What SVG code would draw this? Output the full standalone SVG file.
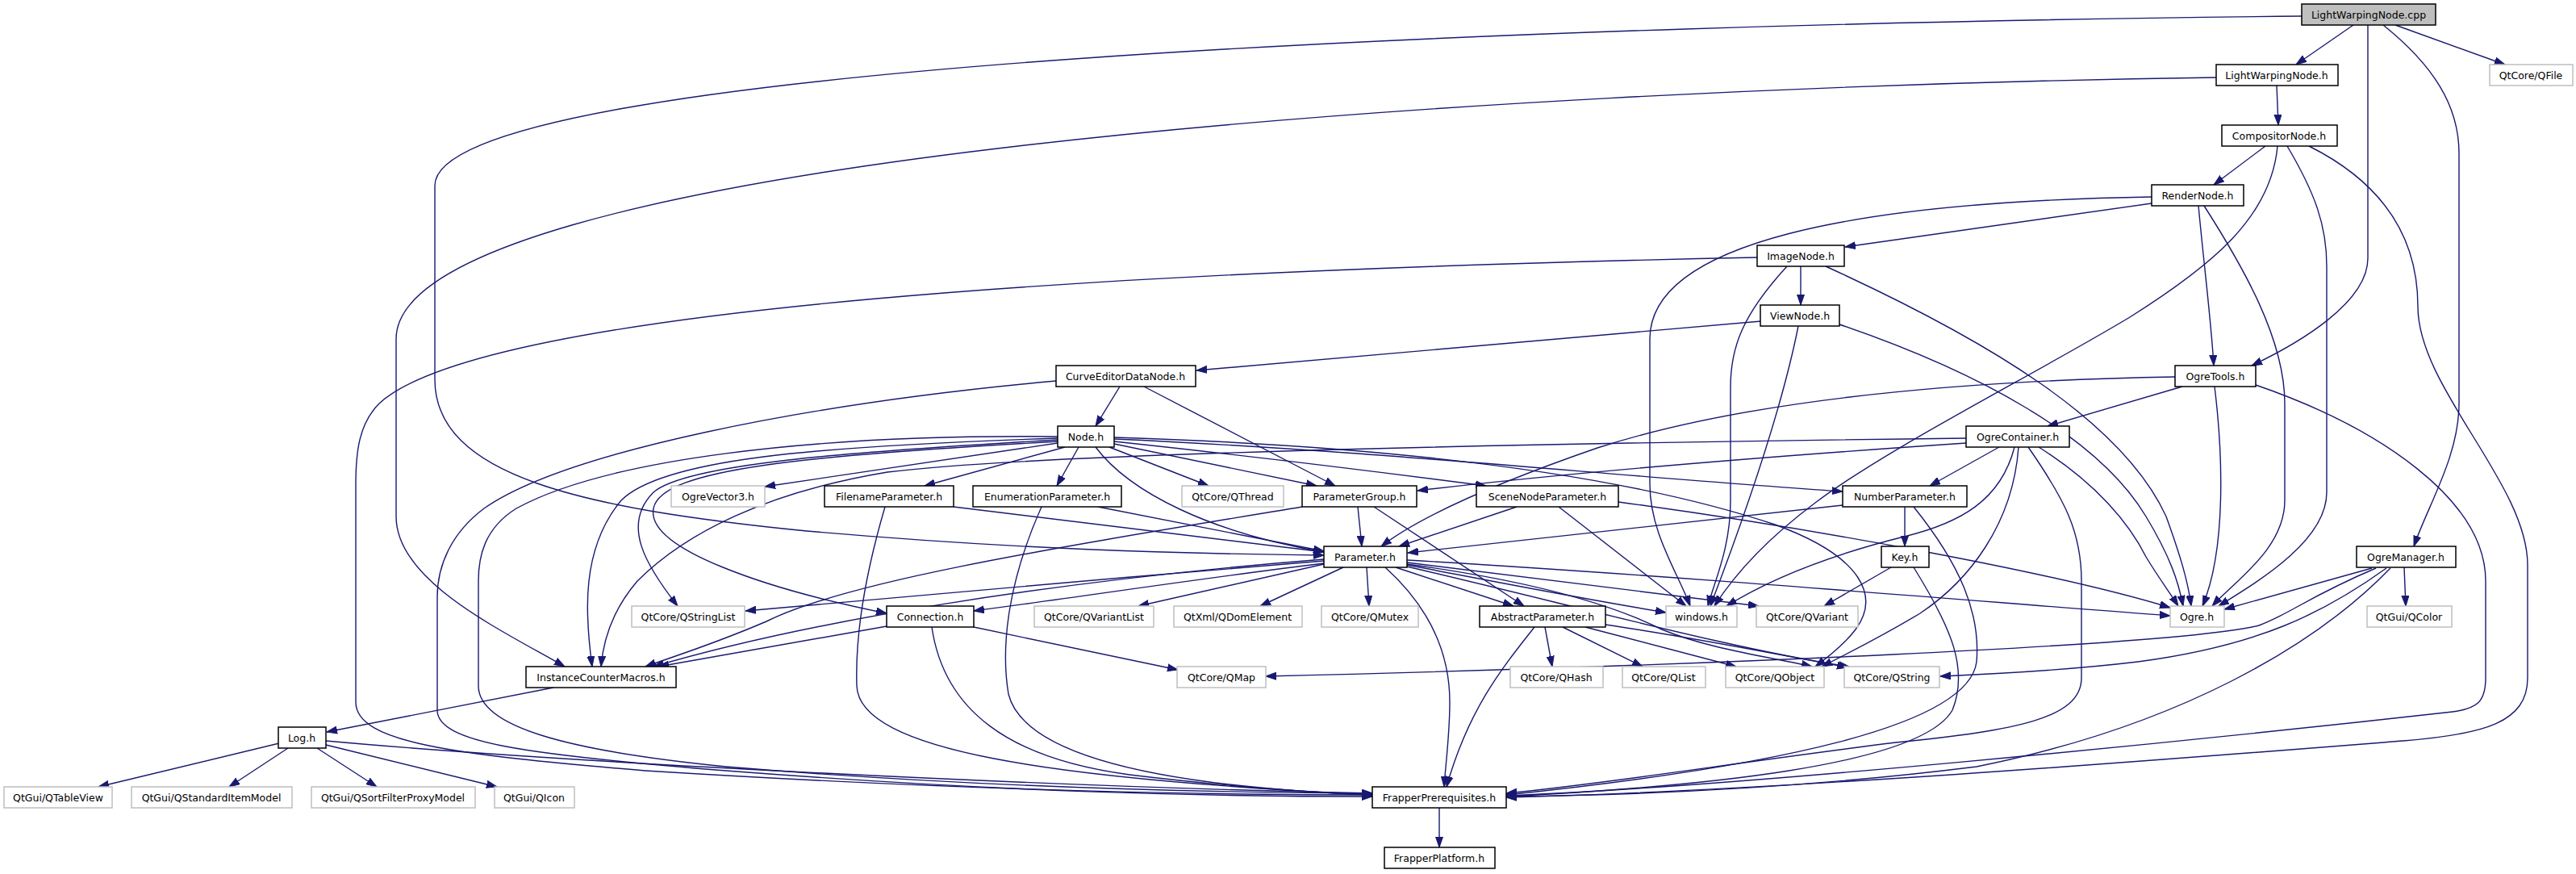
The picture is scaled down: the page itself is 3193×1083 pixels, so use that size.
<svg xmlns="http://www.w3.org/2000/svg" width="3193" height="1083" viewBox="0 0 3193 1083">
<defs>
<marker id="a" markerWidth="14" markerHeight="10" refX="13" refY="5" orient="auto" markerUnits="userSpaceOnUse"><path d="M0,0.5 L13,5 L0,9.5 Z" fill="#191970" stroke="#191970" stroke-width="1"/></marker>
<style>
.e path{fill:none;stroke:#191970;stroke-width:1.4;marker-end:url(#a)}
.n rect{fill:#ffffff;stroke:#000000;stroke-width:1.5}
.x rect{fill:#ffffff;stroke:#bfbfbf;stroke-width:1.5}
.r rect{fill:#bfbfbf;stroke:#000000;stroke-width:1.5}
text{font-family:"DejaVu Sans","Liberation Sans",sans-serif;font-size:12.5px;text-anchor:middle;fill:#000000}
</style>
</defs>
<rect x="0" y="0" width="3193" height="1083" fill="#ffffff"/>
<g id="edges" class="e">
<path d="M2917,31 L2846,80"/>
<path d="M2969,31 L3105,80"/>
<path d="M2935,31 L2935,320 C2935,375 2850,425 2791,453"/>
<path d="M2954,31 C3015,80 3048,130 3048,190 L3048,500 C3048,565 3010,625 2992,677"/>
<path d="M2853,20 C1900,30 539,80 539,230 L539,470 C539,590 720,630 1000,658 C1250,680 1450,686 1641,688"/>
<path d="M2822,106 L2824,155"/>
<path d="M2747,96 C1800,110 491,200 491,420 L491,640 C491,720 620,780 700,826"/>
<path d="M2808,181 L2744,229"/>
<path d="M2823,181 C2815,270 2740,330 2640,393 C2520,465 2340,555 2250,623 C2190,668 2150,712 2125,751"/>
<path d="M2835,181 C2870,240 2884,280 2884,330 L2884,610 C2884,670 2800,720 2750,751"/>
<path d="M2862,181 C2960,230 2997,300 2997,380 C2997,480 3133,600 3133,700 L3133,840 C3133,895 3080,910 2979,918 C2700,940 2200,980 1867,988"/>
<path d="M2667,252 L2287,306"/>
<path d="M2667,244 C2300,250 2045,300 2045,420 L2045,600 C2045,660 2080,710 2095,751"/>
<path d="M2725,255 C2732,330 2741,400 2744,453"/>
<path d="M2732,255 C2780,330 2832,420 2832,500 L2832,620 C2832,680 2770,720 2742,751"/>
<path d="M2232,330 L2232,378"/>
<path d="M2215,330 C2160,390 2145,430 2145,480 L2145,620 C2145,680 2125,720 2117,751"/>
<path d="M2263,330 C2460,420 2630,520 2685,640 C2703,690 2712,720 2716,751"/>
<path d="M2178,319 C1400,335 600,380 470,500 C445,525 441,560 441,600 L441,870 C441,920 560,935 800,955 C1200,980 1500,985 1701,985"/>
<path d="M2183,398 L1483,459"/>
<path d="M2229,404 C2210,500 2170,620 2120,751"/>
<path d="M2280,402 C2450,460 2600,540 2660,640 C2690,690 2700,720 2706,751"/>
<path d="M1388,479 L1358,528"/>
<path d="M1418,479 L1655,602"/>
<path d="M1309,472 C1000,500 700,560 600,630 C560,660 542,700 542,740 L542,880 C542,920 650,935 900,955 C1250,982 1500,987 1701,987"/>
<path d="M1311,549 L948,603"/>
<path d="M1320,554 L1146,602"/>
<path d="M1337,554 L1310,602"/>
<path d="M1375,554 L1498,602"/>
<path d="M1381,550 L1632,602"/>
<path d="M1381,547 C1550,565 1750,590 1842,602"/>
<path d="M1381,544 C1700,558 2000,590 2284,609"/>
<path d="M1381,542 C1800,555 2050,600 2200,650 C2310,690 2330,740 2300,780 C2285,800 2265,815 2250,826"/>
<path d="M1358,554 C1400,610 1500,660 1641,684"/>
<path d="M1311,545 C1050,560 850,575 810,610 C770,650 800,700 840,751"/>
<path d="M1311,543 C1000,553 820,570 770,620 C720,680 725,760 734,826"/>
<path d="M1311,547 C1000,565 820,580 810,630 C800,680 950,730 1099,760"/>
<path d="M1311,541 C1000,538 750,570 640,630 C600,655 593,690 593,720 L593,850 C593,900 700,930 900,950 C1200,975 1500,982 1701,983"/>
<path d="M2705,479 L2538,528"/>
<path d="M2745,479 C2755,560 2760,680 2730,751"/>
<path d="M2696,467 C2400,472 2150,500 1980,555 C1850,600 1760,640 1712,677"/>
<path d="M2796,477 C2950,530 3081,620 3081,720 L3081,840 C3081,870 3070,878 3040,882 C2700,920 2150,975 1867,986"/>
<path d="M2437,543 C2000,548 1300,560 1100,585 C950,610 850,660 790,720 C760,755 748,790 745,826"/>
<path d="M2437,549 C2200,565 1950,585 1757,608"/>
<path d="M2478,554 L2392,602"/>
<path d="M2497,554 C2480,620 2430,648 2360,665 C2260,690 2190,720 2140,751"/>
<path d="M2502,554 C2495,650 2440,720 2380,760 C2330,790 2290,810 2258,826"/>
<path d="M2514,554 C2560,620 2580,660 2580,720 L2580,840 C2580,890 2500,905 2350,920 C2150,945 2000,970 1867,983"/>
<path d="M2527,554 C2600,600 2640,650 2660,690 C2675,715 2690,735 2700,751"/>
<path d="M1683,628 L1688,677"/>
<path d="M1703,628 L1889,751"/>
<path d="M1614,628 C1300,680 1050,720 950,770 C880,800 830,815 800,826"/>
<path d="M1880,628 L1734,677"/>
<path d="M1932,628 L2090,751"/>
<path d="M2006,622 C2250,655 2550,710 2690,753"/>
<path d="M2284,626 L1745,685"/>
<path d="M2361,628 L2361,677"/>
<path d="M2372,628 C2430,700 2455,760 2450,820 C2440,900 2200,950 1867,985"/>
<path d="M2344,703 L2261,751"/>
<path d="M2372,703 C2420,780 2440,830 2420,880 C2380,950 2100,975 1867,987"/>
<path d="M1641,695 C1400,715 1100,740 924,757"/>
<path d="M1641,693 C1300,720 1000,770 810,826"/>
<path d="M1641,698 C1500,715 1350,738 1207,757"/>
<path d="M1641,699 L1411,751"/>
<path d="M1665,703 L1562,751"/>
<path d="M1694,703 L1697,751"/>
<path d="M1717,703 C1780,760 1797,820 1797,870 C1797,910 1792,945 1790,975"/>
<path d="M1730,703 L1876,751"/>
<path d="M1744,700 C1850,720 1950,740 2065,759"/>
<path d="M1744,697 C1900,715 2050,735 2180,751"/>
<path d="M1744,694 C2100,715 2450,745 2690,763"/>
<path d="M1744,699 C1900,720 2000,750 2060,780 C2120,805 2200,815 2246,826"/>
<path d="M1744,702 C1950,750 2150,805 2292,826"/>
<path d="M1915,777 L1924,826"/>
<path d="M1937,777 L2036,826"/>
<path d="M1965,777 L2152,826"/>
<path d="M1990,774 C2100,790 2200,810 2290,827"/>
<path d="M1902,777 C1860,830 1820,880 1793,975"/>
<path d="M1099,776 L816,826"/>
<path d="M1207,777 L1460,830"/>
<path d="M1155,777 C1170,880 1250,940 1400,960 C1550,978 1650,983 1701,985"/>
<path d="M1182,628 L1641,684"/>
<path d="M1097,628 C1070,720 1060,790 1062,850 C1065,930 1300,965 1701,985"/>
<path d="M1361,628 L1641,683"/>
<path d="M1291,628 C1250,720 1240,800 1250,860 C1270,940 1450,975 1701,985"/>
<path d="M686,852 L405,907"/>
<path d="M346,921 L122,975"/>
<path d="M357,927 L284,975"/>
<path d="M393,927 L467,975"/>
<path d="M404,923 L616,975"/>
<path d="M404,918 C700,945 1300,975 1701,983"/>
<path d="M1784,1001 L1784,1050"/>
<path d="M2940,704 L2757,755"/>
<path d="M2980,703 L2982,751"/>
<path d="M2945,704 C2860,740 2840,760 2800,775 C2700,800 2100,825 1569,838"/>
<path d="M2958,704 C2880,760 2800,800 2650,820 C2550,832 2450,836 2405,838"/>
<path d="M2963,704 C2870,800 2700,900 2450,950 C2250,975 2050,985 1867,987"/>
</g>
<g id="n_cpp" class="r"><rect x="2853" y="5" width="166" height="26"/><text x="2936" y="23">LightWarpingNode.cpp</text></g>
<g id="n_lwnh" class="n"><rect x="2747" y="80" width="151" height="26"/><text x="2822" y="98">LightWarpingNode.h</text></g>
<g id="n_qfile" class="x"><rect x="3086" y="80" width="103" height="26"/><text x="3137" y="98">QtCore/QFile</text></g>
<g id="n_comp" class="n"><rect x="2754" y="155" width="143" height="26"/><text x="2825" y="173">CompositorNode.h</text></g>
<g id="n_render" class="n"><rect x="2667" y="229" width="114" height="26"/><text x="2724" y="247">RenderNode.h</text></g>
<g id="n_image" class="n"><rect x="2178" y="304" width="108" height="26"/><text x="2232" y="322">ImageNode.h</text></g>
<g id="n_view" class="n"><rect x="2182" y="378" width="98" height="26"/><text x="2231" y="396">ViewNode.h</text></g>
<g id="n_curve" class="n"><rect x="1309" y="453" width="173" height="26"/><text x="1395" y="471">CurveEditorDataNode.h</text></g>
<g id="n_ogretools" class="n"><rect x="2696" y="453" width="100" height="26"/><text x="2746" y="471">OgreTools.h</text></g>
<g id="n_node" class="n"><rect x="1311" y="528" width="70" height="26"/><text x="1346" y="546">Node.h</text></g>
<g id="n_ogrecont" class="n"><rect x="2437" y="528" width="128" height="26"/><text x="2501" y="546">OgreContainer.h</text></g>
<g id="n_ogrevec" class="x"><rect x="832" y="602" width="116" height="26"/><text x="890" y="620">OgreVector3.h</text></g>
<g id="n_filename" class="n"><rect x="1022" y="602" width="160" height="26"/><text x="1102" y="620">FilenameParameter.h</text></g>
<g id="n_enum" class="n"><rect x="1206" y="602" width="184" height="26"/><text x="1298" y="620">EnumerationParameter.h</text></g>
<g id="n_qthread" class="x"><rect x="1465" y="602" width="126" height="26"/><text x="1528" y="620">QtCore/QThread</text></g>
<g id="n_pgroup" class="n"><rect x="1614" y="602" width="142" height="26"/><text x="1685" y="620">ParameterGroup.h</text></g>
<g id="n_scene" class="n"><rect x="1830" y="602" width="176" height="26"/><text x="1918" y="620">SceneNodeParameter.h</text></g>
<g id="n_number" class="n"><rect x="2284" y="602" width="154" height="26"/><text x="2361" y="620">NumberParameter.h</text></g>
<g id="n_param" class="n"><rect x="1641" y="677" width="103" height="26"/><text x="1692" y="695">Parameter.h</text></g>
<g id="n_key" class="n"><rect x="2332" y="677" width="59" height="26"/><text x="2361" y="695">Key.h</text></g>
<g id="n_ogremgr" class="n"><rect x="2921" y="677" width="123" height="26"/><text x="2982" y="695">OgreManager.h</text></g>
<g id="n_qstringlist" class="x"><rect x="783" y="751" width="140" height="26"/><text x="853" y="769">QtCore/QStringList</text></g>
<g id="n_conn" class="n"><rect x="1099" y="751" width="108" height="26"/><text x="1153" y="769">Connection.h</text></g>
<g id="n_qvarlist" class="x"><rect x="1282" y="751" width="148" height="26"/><text x="1356" y="769">QtCore/QVariantList</text></g>
<g id="n_qdom" class="x"><rect x="1455" y="751" width="159" height="26"/><text x="1534" y="769">QtXml/QDomElement</text></g>
<g id="n_qmutex" class="x"><rect x="1638" y="751" width="120" height="26"/><text x="1698" y="769">QtCore/QMutex</text></g>
<g id="n_abstract" class="n"><rect x="1834" y="751" width="156" height="26"/><text x="1912" y="769">AbstractParameter.h</text></g>
<g id="n_windows" class="x"><rect x="2065" y="751" width="88" height="26"/><text x="2109" y="769">windows.h</text></g>
<g id="n_qvariant" class="x"><rect x="2177" y="751" width="126" height="26"/><text x="2240" y="769">QtCore/QVariant</text></g>
<g id="n_ogre" class="x"><rect x="2690" y="751" width="67" height="26"/><text x="2723" y="769">Ogre.h</text></g>
<g id="n_qcolor" class="x"><rect x="2934" y="751" width="105" height="26"/><text x="2986" y="769">QtGui/QColor</text></g>
<g id="n_icm" class="n"><rect x="652" y="826" width="186" height="26"/><text x="745" y="844">InstanceCounterMacros.h</text></g>
<g id="n_qmap" class="x"><rect x="1459" y="826" width="110" height="26"/><text x="1514" y="844">QtCore/QMap</text></g>
<g id="n_qhash" class="x"><rect x="1872" y="826" width="115" height="26"/><text x="1929" y="844">QtCore/QHash</text></g>
<g id="n_qlist" class="x"><rect x="2011" y="826" width="103" height="26"/><text x="2062" y="844">QtCore/QList</text></g>
<g id="n_qobject" class="x"><rect x="2139" y="826" width="122" height="26"/><text x="2200" y="844">QtCore/QObject</text></g>
<g id="n_qstring" class="x"><rect x="2286" y="826" width="118" height="26"/><text x="2345" y="844">QtCore/QString</text></g>
<g id="n_log" class="n"><rect x="345" y="901" width="59" height="26"/><text x="374" y="919">Log.h</text></g>
<g id="n_qtableview" class="x"><rect x="5" y="975" width="134" height="26"/><text x="72" y="993">QtGui/QTableView</text></g>
<g id="n_qsim" class="x"><rect x="163" y="975" width="199" height="26"/><text x="262" y="993">QtGui/QStandardItemModel</text></g>
<g id="n_qsfpm" class="x"><rect x="386" y="975" width="203" height="26"/><text x="487" y="993">QtGui/QSortFilterProxyModel</text></g>
<g id="n_qicon" class="x"><rect x="613" y="975" width="99" height="26"/><text x="662" y="993">QtGui/QIcon</text></g>
<g id="n_fp" class="n"><rect x="1701" y="975" width="166" height="26"/><text x="1784" y="993">FrapperPrerequisites.h</text></g>
<g id="n_fplat" class="n"><rect x="1716" y="1050" width="137" height="26"/><text x="1784" y="1068">FrapperPlatform.h</text></g>
</svg>
